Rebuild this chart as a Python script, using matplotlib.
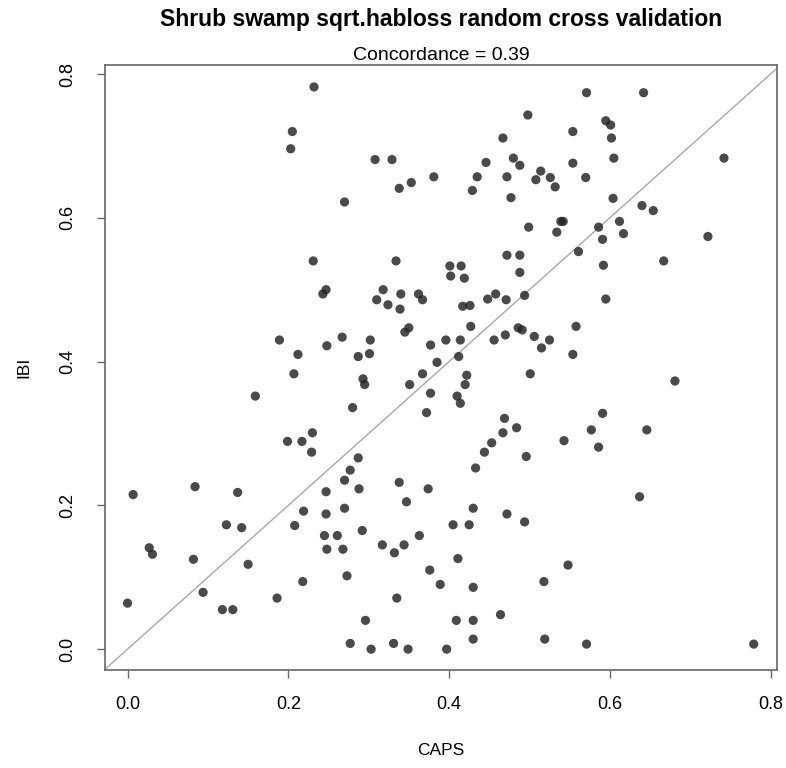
import matplotlib.pyplot as plt
import numpy as np

plt.rcParams['font.family'] = ['Liberation Sans', 'DejaVu Sans']

caps = [0.232, 0.205, 0.203, 0.231,
        0.498, 0.467, 0.308, 0.329, 0.446, 0.480, 0.488, 0.514, 0.508, 0.526,
        0.532, 0.381, 0.435, 0.472, 0.353, 0.338, 0.429, 0.477, 0.270, 0.499,
        0.534, 0.472, 0.488, 0.334, 0.401, 0.415,
        0.571, 0.642, 0.595, 0.601, 0.554, 0.602, 0.605, 0.742, 0.554, 0.570,
        0.604, 0.640, 0.654, 0.539, 0.542, 0.586, 0.612, 0.591, 0.617, 0.722,
        0.561, 0.667, 0.592,
        0.247, 0.243, 0.189, 0.212, 0.248, 0.207, 0.159, 0.230, 0.199, 0.217,
        0.229,
        0.488, 0.402, 0.419, 0.318, 0.340, 0.362, 0.367, 0.310, 0.324, 0.339,
        0.448, 0.458, 0.471, 0.494, 0.417, 0.426, 0.427, 0.345, 0.350, 0.267,
        0.302, 0.377, 0.396, 0.414, 0.456, 0.470, 0.486, 0.491, 0.506, 0.515,
        0.525, 0.287, 0.301, 0.385, 0.412, 0.367, 0.422, 0.293, 0.295, 0.351,
        0.420, 0.501, 0.377, 0.410, 0.414, 0.280, 0.372, 0.469, 0.484, 0.467,
        0.453, 0.444, 0.496, 0.287, 0.277, 0.433,
        0.595, 0.558, 0.554, 0.681, 0.591, 0.577, 0.646, 0.543, 0.586,
        0.007, 0.084, 0.137, 0.123, 0.142, 0.027, 0.031, 0.082, 0.150, 0.000,
        0.094, 0.118, 0.131, 0.186, 0.208, 0.219, 0.218, 0.247, 0.247, 0.245,
        0.248,
        0.270, 0.288, 0.338, 0.374, 0.347, 0.270, 0.430, 0.472, 0.494, 0.405,
        0.425, 0.292, 0.261, 0.268, 0.317, 0.332, 0.344, 0.363, 0.411, 0.376,
        0.273, 0.389, 0.430, 0.518, 0.335, 0.296, 0.409, 0.430, 0.464, 0.430,
        0.519, 0.277, 0.303, 0.331, 0.349, 0.397,
        0.637, 0.548, 0.571, 0.779]

ibi = [0.782, 0.720, 0.696, 0.540,
       0.743, 0.711, 0.681, 0.681, 0.677, 0.683, 0.673, 0.665, 0.653, 0.656,
       0.643, 0.657, 0.657, 0.657, 0.649, 0.641, 0.638, 0.628, 0.622, 0.587,
       0.580, 0.548, 0.548, 0.540, 0.533, 0.533,
       0.774, 0.774, 0.735, 0.729, 0.720, 0.711, 0.683, 0.683, 0.676, 0.656,
       0.627, 0.617, 0.610, 0.595, 0.595, 0.587, 0.595, 0.570, 0.578, 0.574,
       0.553, 0.540, 0.534,
       0.500, 0.494, 0.430, 0.410, 0.422, 0.383, 0.352, 0.301, 0.289, 0.289,
       0.274,
       0.524, 0.519, 0.516, 0.500, 0.494, 0.494, 0.486, 0.486, 0.479, 0.473,
       0.487, 0.494, 0.486, 0.492, 0.477, 0.478, 0.449, 0.441, 0.447, 0.434,
       0.430, 0.423, 0.430, 0.430, 0.430, 0.437, 0.447, 0.444, 0.435, 0.419,
       0.430, 0.407, 0.411, 0.399, 0.407, 0.383, 0.381, 0.376, 0.368, 0.368,
       0.368, 0.383, 0.356, 0.352, 0.342, 0.336, 0.329, 0.321, 0.308, 0.301,
       0.287, 0.274, 0.268, 0.266, 0.249, 0.252,
       0.487, 0.449, 0.410, 0.373, 0.328, 0.305, 0.305, 0.290, 0.281,
       0.215, 0.226, 0.218, 0.173, 0.169, 0.141, 0.132, 0.125, 0.118, 0.064,
       0.079, 0.055, 0.055, 0.071, 0.172, 0.192, 0.094, 0.219, 0.188, 0.158,
       0.139,
       0.235, 0.223, 0.232, 0.223, 0.205, 0.196, 0.196, 0.188, 0.177, 0.173,
       0.173, 0.165, 0.158, 0.139, 0.145, 0.134, 0.145, 0.158, 0.126, 0.110,
       0.102, 0.090, 0.086, 0.094, 0.071, 0.040, 0.040, 0.040, 0.048, 0.014,
       0.014, 0.008, 0.000, 0.008, 0.000, 0.000,
       0.212, 0.117, 0.007, 0.007]

ticks = [0.0, 0.2, 0.4, 0.6, 0.8]
tick_labels = ['0.0', '0.2', '0.4', '0.6', '0.8']

fig = plt.figure(figsize=(7.86, 7.68), dpi=100)
ax = fig.add_axes([0.1336, 0.1276, 0.8550, 0.7882])

ax.scatter(caps, ibi, s=44, color='#222222', alpha=0.82, edgecolors='none', zorder=3)
ax.axline((0, 0), slope=1, color='#a8a8a8', lw=1.0, zorder=2)

ax.set_xlim(-0.028, 0.808)
ax.set_ylim(-0.029, 0.813)
ax.set_xticks(ticks)
ax.set_xticklabels(tick_labels)
ax.set_yticks(ticks)
ax.set_yticklabels(tick_labels, rotation=90, va='center')
ax.tick_params(axis='both', length=6, width=1, color='#666666', labelsize=13)
ax.tick_params(axis='x', pad=13)
ax.tick_params(axis='y', pad=15)
for sp in ax.spines.values():
    sp.set_color('#666666')
    sp.set_linewidth(1.2)

ax.set_xlabel('CAPS', fontsize=12.5, labelpad=21)
ax.set_ylabel('IBI', fontsize=12.5, labelpad=20)

fig.text(0.561, 0.974, 'Shrub swamp sqrt.habloss random cross validation',
         ha='center', va='center', fontsize=16.5, fontweight='bold')
ax.set_title('Concordance = 0.39', fontsize=14, pad=3)

plt.savefig('out.png', dpi=100, facecolor='white')
